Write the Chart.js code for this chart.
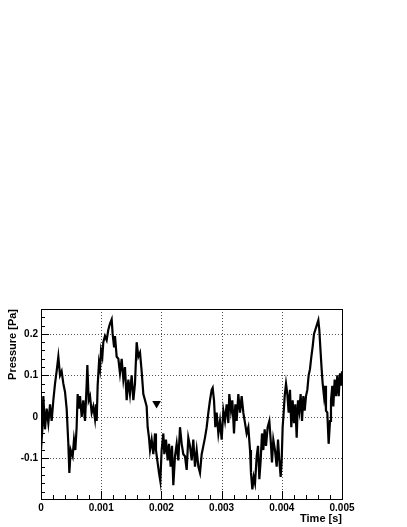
<!DOCTYPE html>
<html>
<head>
<meta charset="utf-8">
<script src="https://cdn.jsdelivr.net/npm/chart.js@4"></script>
<style>
  html, body { margin: 0; padding: 0; background: #fff; }
  canvas { display: block; }
</style>
</head>
<body>
<canvas id="chart" width="407" height="527"></canvas>
<script>
// time in milliseconds (axis labels show seconds)
const timeMs = [
  0, 0.022, 0.039, 0.066, 0.094, 0.122, 0.150, 0.177, 0.205, 0.233,
  0.260, 0.288, 0.316, 0.343, 0.371, 0.399, 0.426, 0.454, 0.471, 0.493,
  0.526, 0.548, 0.570, 0.592, 0.609, 0.631, 0.648, 0.676, 0.703, 0.731,
  0.759, 0.770, 0.792, 0.814, 0.842, 0.869, 0.897, 0.914, 0.925, 0.941,
  0.963, 0.980, 0.997, 1.019, 1.035, 1.063, 1.091, 1.118, 1.146, 1.174,
  1.190, 1.213, 1.229, 1.257, 1.285, 1.312, 1.340, 1.368, 1.395, 1.423,
  1.451, 1.478, 1.506, 1.534, 1.561, 1.589, 1.617, 1.645, 1.672, 1.700,
  1.728, 1.755, 1.772, 1.794, 1.811, 1.838, 1.866, 1.894, 1.910, 1.932,
  1.960, 1.982, 2.004, 2.032, 2.049, 2.076, 2.104, 2.126, 2.154, 2.176,
  2.198, 2.226, 2.254, 2.281, 2.309, 2.337, 2.364, 2.392, 2.420, 2.447,
  2.475, 2.503, 2.530, 2.558, 2.586, 2.614, 2.641, 2.669, 2.697, 2.724,
  2.752, 2.780, 2.807, 2.835, 2.852, 2.874, 2.896, 2.918, 2.946, 2.973,
  3.001, 3.029, 3.056, 3.084, 3.112, 3.128, 3.156, 3.178, 3.206, 3.228,
  3.250, 3.278, 3.306, 3.333, 3.361, 3.389, 3.416, 3.444, 3.472, 3.488,
  3.511, 3.533, 3.555, 3.583, 3.605, 3.627, 3.649, 3.671, 3.693, 3.715,
  3.738, 3.765, 3.793, 3.815, 3.837, 3.859, 3.887, 3.915, 3.937, 3.959,
  3.981, 3.998, 4.014, 4.031, 4.048, 4.070, 4.092, 4.114, 4.136, 4.158,
  4.180, 4.203, 4.225, 4.247, 4.269, 4.291, 4.313, 4.336, 4.358, 4.380,
  4.402, 4.424, 4.446, 4.468, 4.491, 4.513, 4.535, 4.557, 4.579, 4.607,
  4.623, 4.645, 4.662, 4.679, 4.701, 4.718, 4.734, 4.756, 4.778, 4.801,
  4.817, 4.839, 4.856, 4.878, 4.900, 4.922, 4.945, 4.967, 4.989, 5.000
];

const pressure = [
  -0.08, -0.03, 0.05, -0.03, 0.02, -0.015, 0.03, -0.01, 0.04, 0.08,
  0.11, 0.145, 0.10, 0.11, 0.08, 0.06, 0.02, -0.065, -0.135, -0.08,
  -0.095, -0.055, -0.08, -0.025, 0.055, 0.02, 0.05, 0.0, 0.04, -0.01,
  0.08, 0.125, 0.04, 0.05, 0.01, 0.025, -0.005, 0.03, -0.01, 0.075,
  0.13, 0.115, 0.16, 0.145, 0.18, 0.195, 0.185, 0.21, 0.225, 0.235,
  0.20, 0.17, 0.195, 0.145, 0.14, 0.105, 0.14, 0.09, 0.12, 0.04,
  0.09, 0.055, 0.10, 0.04, 0.08, 0.18, 0.145, 0.155, 0.11, 0.055,
  0.04, 0.025, -0.025, -0.05, -0.08, -0.055, -0.09, -0.04, -0.08, -0.105,
  -0.135, -0.155, -0.08, -0.04, -0.09, -0.055, -0.105, -0.065, -0.12, -0.07,
  -0.165, -0.095, -0.065, -0.105, -0.025, -0.065, -0.09, -0.095, -0.128, -0.05,
  -0.07, -0.105, -0.055, -0.12, -0.08, -0.12, -0.135, -0.09, -0.07, -0.05,
  -0.025, 0.01, 0.04, 0.065, 0.07, 0.04, -0.025, 0.01, -0.04, -0.01,
  -0.055, 0.015, -0.01, 0.03, -0.015, 0.055, 0.015, 0.04, -0.04, 0.03,
  -0.01, 0.055, 0.01, 0.05, 0.01, -0.015, -0.04, -0.025, -0.08, -0.135,
  -0.175, -0.145, -0.16, -0.095, -0.07, -0.15, -0.105, -0.04, -0.08, -0.03,
  -0.07, -0.025, -0.01, -0.055, -0.11, -0.055, -0.08, -0.12, -0.055, -0.105,
  -0.145, -0.105, -0.025, 0.01, 0.05, 0.08, 0.055, 0.01, 0.065, -0.025,
  0.04, -0.015, 0.03, -0.05, 0.04, 0.015, 0.055, -0.01, 0.05, 0.015,
  0.05, 0.065, 0.10, 0.115, 0.145, 0.17, 0.20, 0.21, 0.22, 0.233,
  0.21, 0.155, 0.115, 0.08, 0.05, 0.075, 0.015, 0.01, -0.065, -0.01,
  0.04, 0.075, 0.025, 0.09, 0.05, 0.10, 0.05, 0.105, 0.075, 0.11
];

const markerTimeMs = [1.92];
const markerPressure = [0.032];

const xTickValues = [0, 1, 2, 3, 4, 5];
const xTickLabels = ['0', '0.001', '0.002', '0.003', '0.004', '0.005'];
const yTickValues = [-0.1, 0, 0.1, 0.2];
const yTickLabels = ['-0.1', '0', '0.1', '0.2'];

const X_MIN = 0, X_MAX = 5, Y_MIN = -0.198, Y_MAX = 0.26;

const labelFont = { family: 'Liberation Sans, Arial, sans-serif', size: 10, weight: 'bold' };
const titleFont = { family: 'Liberation Sans, Arial, sans-serif', size: 11, weight: 'bold' };

// ROOT-like frame: dotted grid, black box, ticks pointing inwards
const framePlugin = {
  id: 'frame',
  beforeDatasetsDraw(chart) {
    const { ctx, chartArea: a, scales: { x, y } } = chart;
    ctx.save();
    ctx.strokeStyle = '#555';
    ctx.lineWidth = 1;
    ctx.setLineDash([1, 2]);
    xTickValues.forEach(v => {
      const px = Math.round(x.getPixelForValue(v)) + 0.5;
      if (v === X_MIN || v === X_MAX) return;
      ctx.beginPath(); ctx.moveTo(px, a.top); ctx.lineTo(px, a.bottom); ctx.stroke();
    });
    yTickValues.forEach(v => {
      const py = Math.round(y.getPixelForValue(v)) + 0.5;
      ctx.beginPath(); ctx.moveTo(a.left, py); ctx.lineTo(a.right, py); ctx.stroke();
    });
    ctx.restore();
  },
  afterDatasetsDraw(chart) {
    const { ctx, chartArea: a, scales: { x, y } } = chart;
    ctx.save();
    ctx.strokeStyle = '#000';
    ctx.lineWidth = 1;
    ctx.strokeRect(Math.round(a.left) + 0.5, Math.round(a.top) + 0.5,
      Math.round(a.right - a.left), Math.round(a.bottom - a.top));
    ctx.beginPath();
    // x ticks, minor every 0.0002 s
    for (let i = 0; i <= 25; i++) {
      const v = i * 0.2;
      const px = Math.round(x.getPixelForValue(v)) + 0.5;
      const len = i % 5 === 0 ? 8 : 4;
      ctx.moveTo(px, a.bottom); ctx.lineTo(px, a.bottom - len);
    }
    // y ticks, minor every 0.02 Pa
    for (let i = -9; i <= 13; i++) {
      const v = i * 0.02;
      const py = Math.round(y.getPixelForValue(v)) + 0.5;
      const len = i % 5 === 0 ? 8 : 4;
      ctx.moveTo(a.left, py); ctx.lineTo(a.left + len, py);
    }
    ctx.stroke();
    ctx.restore();
  }
};

new Chart(document.getElementById('chart'), {
  type: 'scatter',
  data: {
    datasets: [
      {
        data: timeMs.map((t, i) => ({ x: t, y: pressure[i] })),
        showLine: true,
        borderColor: '#000',
        borderWidth: 2.2,
        pointRadius: 0,
        tension: 0
      },
      {
        data: markerTimeMs.map((t, i) => ({ x: t, y: markerPressure[i] })),
        pointStyle: 'triangle',
        rotation: 180,
        pointRadius: 5,
        backgroundColor: '#000',
        borderColor: '#000',
        borderWidth: 0
      }
    ]
  },
  options: {
    responsive: false,
    animation: false,
    layout: { padding: { top: 309, right: 65, left: 0, bottom: 0 } },
    plugins: { legend: { display: false }, tooltip: { enabled: false } },
    scales: {
      x: {
        type: 'linear',
        min: X_MIN,
        max: X_MAX,
        afterFit(scale) { scale.height = 28; },
        afterBuildTicks(scale) { scale.ticks = xTickValues.map(v => ({ value: v })); },
        grid: { display: false, drawTicks: false },
        border: { display: false },
        ticks: {
          color: '#000',
          font: labelFont,
          padding: 3,
          maxRotation: 0,
          callback: (v, i) => xTickLabels[i]
        },
        title: {
          display: true,
          text: 'Time [s]',
          align: 'end',
          color: '#000',
          font: titleFont,
          padding: { top: 0, bottom: 1 }
        }
      },
      y: {
        type: 'linear',
        min: Y_MIN,
        max: Y_MAX,
        afterFit(scale) { scale.width = 41; },
        afterBuildTicks(scale) { scale.ticks = yTickValues.map(v => ({ value: v })); },
        grid: { display: false, drawTicks: false },
        border: { display: false },
        ticks: {
          color: '#000',
          font: labelFont,
          padding: 3,
          callback: (v, i) => yTickLabels[i]
        },
        title: {
          display: true,
          text: 'Pressure [Pa]',
          align: 'end',
          color: '#000',
          font: titleFont,
          padding: { top: 6, bottom: 0 }
        }
      }
    }
  },
  plugins: [framePlugin]
});
</script>
</body>
</html>
